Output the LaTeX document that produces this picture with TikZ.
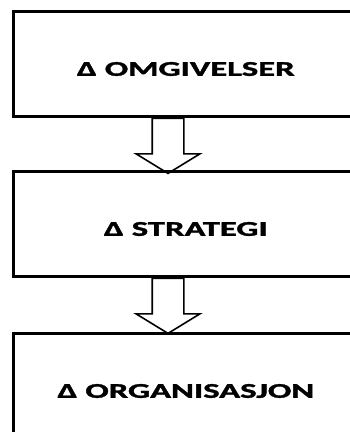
\documentclass[tikz,border=0pt]{standalone}
\usepackage{fontspec}
\setmainfont{Carlito}[BoldFeatures={FakeBold=1.3}]
\usepackage{graphicx}
\usetikzlibrary{positioning,shapes.arrows}

\begin{document}
\begin{tikzpicture}[x=1pt,y=-1pt]
	\tikzset{every node/.append style={inner sep=0pt}}
	\tikzset{box/.style={draw=black,line width=2.6pt,minimum width=345pt,minimum height=105pt,anchor=north west}}
	\tikzset{bigarrow/.style={draw=black,line width=1.6pt,single arrow,shape border rotate=270,inner sep=15pt,minimum height=55pt,minimum width=62pt,single arrow head extend=16pt,single arrow tip angle=117,anchor=tail}}
	\tikzset{lbl/.style={font=\bfseries\fontsize{21}{25}\selectfont}}
	\useasboundingbox (0,0) rectangle (350,432);
	\clip (0,0) rectangle (350,432);
	% boxes
	\node[box] (omg) at (12,10) {};
	\node[box] (str) at (12,170) {};
	\node[box] (org) at (12,332) {};
	% texts
	\node[lbl] (omgtxt) at ([yshift=-59pt]omg.north) {\scalebox{1.65}[1]{Δ OMGIVELSER}};
	\node[lbl] (strtxt) at ([yshift=-59pt]str.north) {\scalebox{1.65}[1]{Δ STRATEGI}};
	\node[lbl] (orgtxt) at ([yshift=-59pt]org.north) {\scalebox{1.65}[1]{Δ ORGANISASJON}};
	% arrows
	\node[bigarrow] (arr1) at ([xshift=156pt]omg.south west) {};
	\node[bigarrow] (arr2) at ([xshift=156pt]str.south west) {};
\end{tikzpicture}
\end{document}
